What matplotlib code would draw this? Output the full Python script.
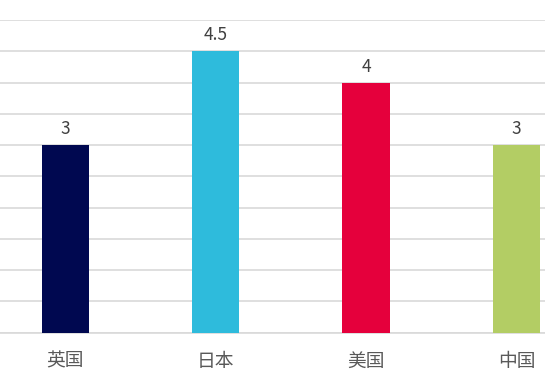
import matplotlib
matplotlib.use("Agg")
import matplotlib.pyplot as plt

categories = ["英国", "日本", "美国", "中国"]
values = [3, 4.5, 4, 3]
colors = ["#000850", "#2ebbdc", "#e5003c", "#b3cd64"]
value_labels = ["3", "4.5", "4", "3"]

plt.rcParams['font.family'] = ['Noto Sans CJK SC', 'DejaVu Sans']

fig = plt.figure(figsize=(5.45, 3.8), dpi=100)
ax = fig.add_axes([0, 0.125, 1, 0.822])
x = list(range(len(categories)))
ax.bar(x, values, width=0.316, color=colors, zorder=3)
ax.set_xlim(-0.434, 3.19)
ax.set_ylim(0, 5)
ax.set_yticks([i * 0.5 for i in range(11)])
ax.yaxis.grid(True, color="#d9d9d9", linewidth=1.2, zorder=0)
ax.tick_params(axis='y', left=False, labelleft=False)
ax.set_xticks(x)
ax.set_xticklabels(categories, fontsize=13.5, color="#595959")
ax.tick_params(axis='x', length=0, pad=13)
for s in ["top", "left", "right"]:
    ax.spines[s].set_visible(False)
ax.spines["bottom"].set_color("#d9d9d9")
ax.spines["bottom"].set_linewidth(1.2)
for xi, v, lab in zip(x, values, value_labels):
    ax.annotate(lab, (xi, v), xytext=(0, 8), textcoords="offset points",
                ha="center", va="baseline", fontsize=12.5, color="#404040")
fig.savefig("out.png", dpi=100)
